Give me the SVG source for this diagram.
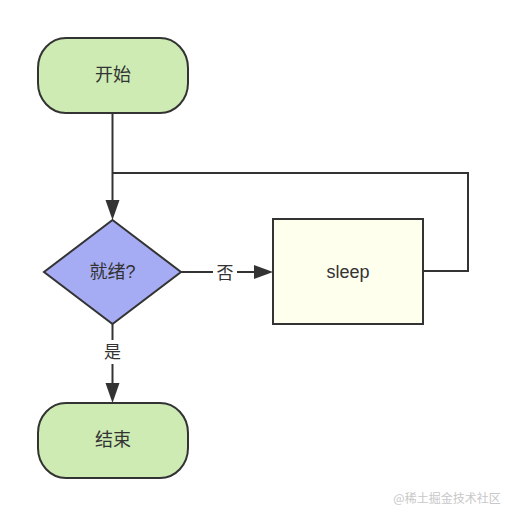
<svg xmlns="http://www.w3.org/2000/svg" width="505" height="516" viewBox="0 0 505 516">
<defs>
<style>
.n{stroke:#333;stroke-width:2}
.t{font-family:"Liberation Sans","Noto Sans CJK SC",sans-serif;font-size:18px;fill:#333;text-anchor:middle;dominant-baseline:central}
.e{fill:none;stroke:#333;stroke-width:2}
.h{fill:#333}
.l{font-family:"Liberation Sans","Noto Sans CJK SC",sans-serif;font-size:17px;fill:#333;text-anchor:middle;dominant-baseline:central}
</style>
</defs>
<rect width="505" height="516" fill="#fff"/>
<g id="edges">
<path class="e" d="M112.5,113 V200"/>
<polygon class="h" points="105.5,200 119.5,200 112.5,220"/>
<path class="e" d="M423,271 H468 V173 H112.5"/>
<path class="e" d="M181,272 H213"/>
<path class="e" d="M237,272 H255"/>
<polygon class="h" points="254,265 254,279 273,272"/>
<text class="l" x="225" y="273">否</text>
<path class="e" d="M112.5,324 V340"/>
<path class="e" d="M112.5,364 V383"/>
<polygon class="h" points="105.5,383 119.5,383 112.5,403"/>
<text class="l" x="112.5" y="352">是</text>
</g>
<g id="start">
<rect class="n" x="38" y="38" width="150" height="75" rx="28" ry="30" fill="#cdebb3"/>
<text class="t" x="113" y="75">开始</text>
</g>
<g id="ready">
<polygon class="n" points="112.5,220 181,272 112.5,324 44,272" fill="#a6acf4"/>
<text class="t" x="112.5" y="272">就绪?</text>
</g>
<g id="sleep">
<rect class="n" x="273" y="219" width="150" height="105" fill="#ffffee"/>
<text class="t" x="348" y="272">sleep</text>
</g>
<g id="end">
<rect class="n" x="38" y="403" width="150" height="75" rx="28" ry="30" fill="#cdebb3"/>
<text class="t" x="113" y="440">结束</text>
</g>
<text x="447" y="497" font-family="'Noto Sans CJK SC',sans-serif" font-size="12" fill="#c8c8c8" text-anchor="middle" dominant-baseline="central">@稀土掘金技术社区</text>
</svg>
